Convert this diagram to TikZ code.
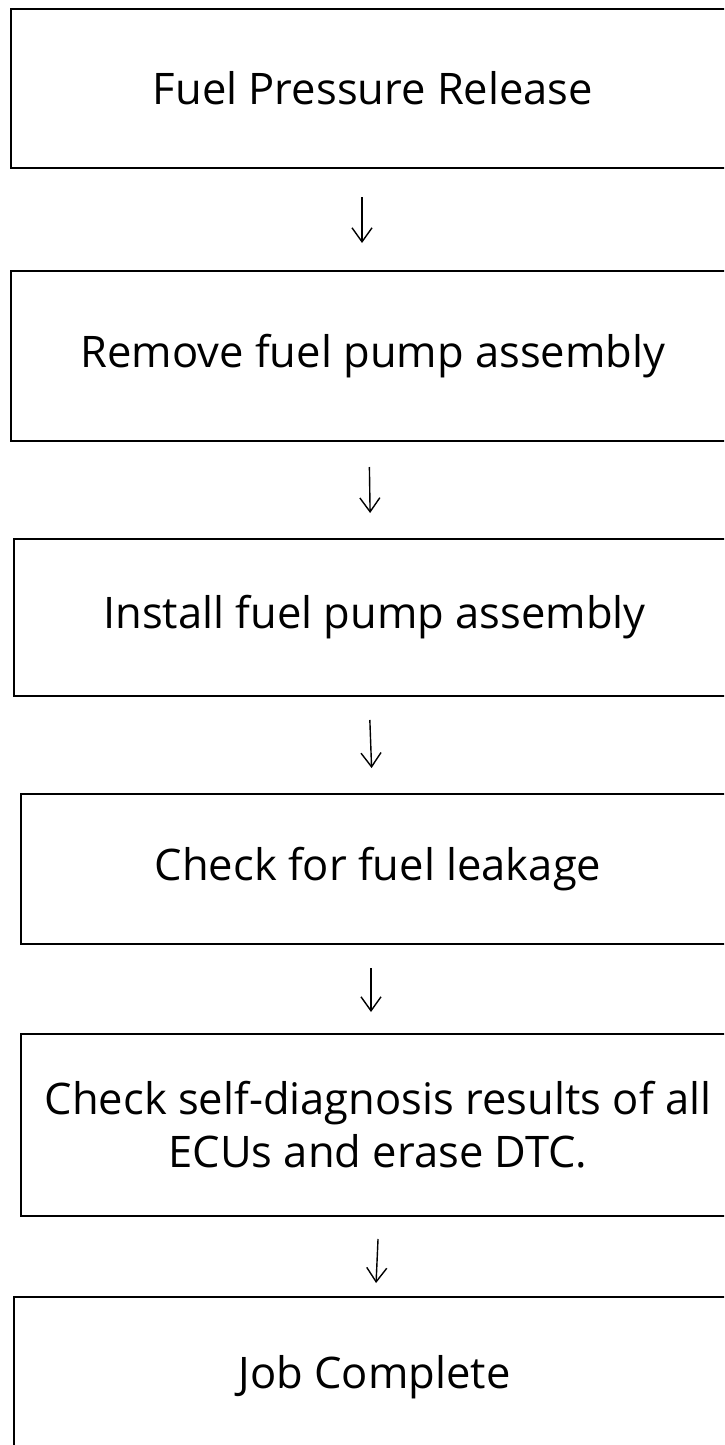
\documentclass[tikz,border=0pt]{standalone}
\usepackage{fontspec}
\setmainfont{Open Sans}
\usetikzlibrary{arrows.meta}
\tikzset{
	stepbox/.style={draw=black, line width=2pt, anchor=north west, align=center, inner sep=0pt, font=\fontsize{43.5}{53}\selectfont},
	flow/.style={line width=1.4pt, -{Straight Barb[length=14pt, width=20pt, line width=1.4pt]}}
}

\begin{document}
\begin{tikzpicture}[x=1pt, y=-1pt]
			%%%%% START %%%%%
			
			\clip (0, 0) rectangle (724, 1445);
			
			\node[stepbox, minimum width=724pt, minimum height=159pt] (release) at (10, 8) {Fuel Pressure Release};
			\node[stepbox, minimum width=724pt, minimum height=170pt] (remove) at (10, 270) {Remove fuel pump assembly};
			\node[stepbox, minimum width=721pt, minimum height=157pt] (install) at (13, 538) {Install fuel pump assembly};
			\node[stepbox, minimum width=714pt, minimum height=150pt] (leak) at (20, 793) {Check for fuel leakage};
			\node[stepbox, minimum width=714pt, minimum height=182pt] (diag) at (20, 1033) {Check self-diagnosis results of all\\ECUs and erase DTC.};
			\node[stepbox, minimum width=721pt, minimum height=160pt] (done) at (13, 1296) {Job Complete};
			
			\draw[flow, shorten <=28pt, shorten >=27pt] ([xshift=-11pt]release.south) -- ([xshift=-11pt]remove.north);
			\draw[flow, shorten <=25pt, shorten >=25pt] ([xshift=-4pt]remove.south) -- ([xshift=-4pt]install.north);
			\draw[flow, shorten <=23pt, shorten >=25pt] ([xshift=-5.5pt]install.south) -- ([xshift=-5.5pt]leak.north);
			\draw[flow, shorten <=23pt, shorten >=21pt] ([xshift=-7pt]leak.south) -- ([xshift=-7pt]diag.north);
			\draw[flow, shorten <=22pt, shorten >=13pt] ([xshift=1pt]diag.south) -- ([xshift=1pt]done.north);
			
			%%%%% END %%%%%
\end{tikzpicture}
\end{document}
